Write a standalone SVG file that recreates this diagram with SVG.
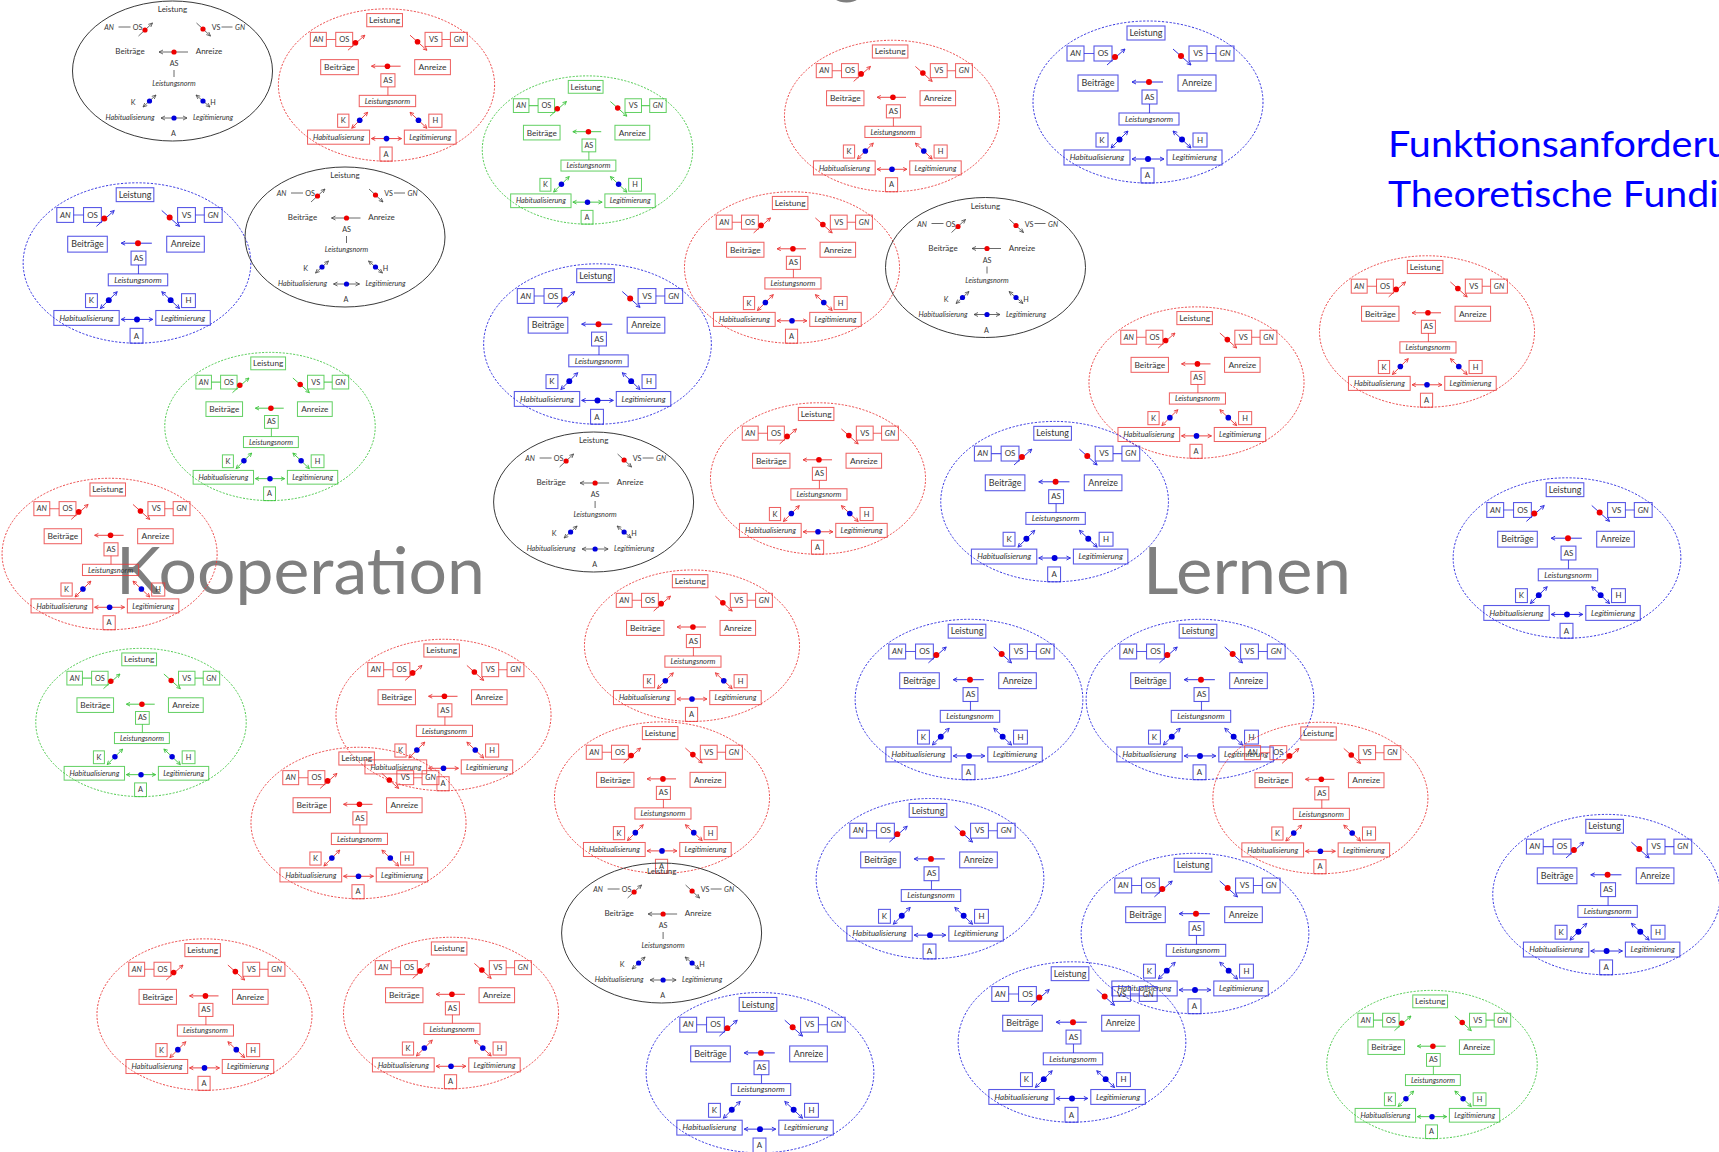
<svg xmlns="http://www.w3.org/2000/svg" xmlns:xlink="http://www.w3.org/1999/xlink" width="1719" height="1152" viewBox="0 0 1719 1152">
<style>
text{font-family:Lato,"Open Sans",sans-serif;fill:#333;text-anchor:middle}
.c text{font-size:8px}
.c .L{font-size:9px}
.k text{font-size:7.2px}
.k .L{font-size:8px}
.i{font-style:italic}
.r{color:#ea3a3a}
.b{color:#3030e0}
.g{color:#3cc43c}
text.big{font-size:66px;fill:#7f7f7f;text-anchor:start}
text.ttl{font-size:37.5px;fill:#0000ff;text-anchor:start}
</style>
<defs>
<g id="T" fill="none" stroke="currentColor">
<ellipse rx="115" ry="81" stroke-dasharray="2.2 1.6" stroke-width="1"/>
<g stroke-width="1.1" stroke-opacity="0.8">
<rect x="-21" y="-76" width="38" height="14"/>
<rect x="-81" y="-56" width="17" height="15"/>
<rect x="-54" y="-56" width="18" height="15"/>
<rect x="41" y="-56" width="18" height="15"/>
<rect x="68" y="-56" width="18" height="15"/>
<rect x="-70" y="-27" width="40" height="16"/>
<rect x="30" y="-27" width="38" height="16"/>
<rect x="-6" y="-12" width="15" height="14"/>
<rect x="-29" y="11" width="60" height="12"/>
<rect x="-52" y="31" width="12" height="14"/>
<rect x="45" y="31" width="14" height="14"/>
<rect x="-84" y="48" width="66" height="15"/>
<rect x="19" y="48" width="55" height="15"/>
<rect x="-7" y="66" width="13" height="15"/>
<path d="M-64,-48.5H-54M59,-48.5H68M1.5,2V11"/>
</g>
<path stroke-width="1" d="M-41,-37L-23,-53M25,-53L43,-37M15,-20H-16M-37,46L-20,29M25,29L43,46M-16,57H16"/>
<path stroke-width="1" d="M-24.7,-48.9L-23,-53L-27.3,-51.8M38.7,-38.2L43,-37L41.3,-41.1M-12,-22L-16,-20L-12,-18M-21.4,33.2L-20,29L-24.2,30.4M-32.8,44.6L-37,46L-35.6,41.8M38.7,44.7L43,46L41.5,41.8M26.5,33.2L25,29L29.3,30.3M-12,55L-16,57L-12,59M12,55L16,57L12,59"/>
<g stroke="none">
<circle cx="-33" cy="-45" r="3" fill="#e00"/>
<circle cx="33" cy="-46" r="3" fill="#e00"/>
<circle cx="1" cy="-20" r="3" fill="#e00"/>
<circle cx="-28.5" cy="37.5" r="3" fill="#00d"/>
<circle cx="34" cy="37.5" r="3" fill="#00d"/>
<circle cx="0" cy="57" r="3" fill="#00d"/>
</g>
</g>
<g id="B" fill="none" stroke="#444" stroke-width="0.8">
<ellipse rx="100" ry="70" stroke="#3a3a3a" stroke-width="1"/>
<path d="M-54,-44H-42M49,-44H60M1.5,-1V6M-34,-35L-20,-48M24,-48L38,-35M15.5,-19H-13.5M-29.5,36L-16.5,24M23.5,24L37.5,36M-11.5,47H14.5"/>
<path d="M-21.7,-44L-20,-48L-24.2,-46.6M33.8,-36.4L38,-35L36.3,-39M-9.5,-21L-13.5,-19L-9.5,-17M-18.2,28L-16.5,24L-20.7,25.4M-25.3,34.6L-29.5,36L-27.8,32M33.3,34.8L37.5,36L35.6,32M25.4,28L23.5,24L27.7,25.2M-7.5,45L-11.5,47L-7.5,49M10.5,45L14.5,47L10.5,49"/>
<g stroke="none">
<circle cx="-27.5" cy="-41" r="2.6" fill="#e00"/>
<circle cx="30.5" cy="-42" r="2.6" fill="#e00"/>
<circle cx="1.5" cy="-19" r="2.6" fill="#e00"/>
<circle cx="-23" cy="30" r="2.6" fill="#00d"/>
<circle cx="30.5" cy="30" r="2.6" fill="#00d"/>
<circle cx="1.5" cy="47" r="2.6" fill="#00d"/>
</g>
</g>
</defs>
<rect width="1719" height="1152" fill="#fff"/>
<g id="titles">
<text class="big" x="830" y="-9">g</text>
<text class="big" x="116" y="594" textLength="369" lengthAdjust="spacingAndGlyphs">Kooperation</text>
<text class="big" x="1143" y="594" textLength="208" lengthAdjust="spacingAndGlyphs">Lernen</text>
<text class="ttl" x="1388" y="157" textLength="426" lengthAdjust="spacingAndGlyphs">Funktionsanforderungen</text>
<text class="ttl" x="1388" y="207" textLength="430" lengthAdjust="spacingAndGlyphs">Theoretische Fundierung</text>
</g>

<g id="n1" class="k" transform="translate(172.5,71)"><use href="#B"/><text class="L" x="0" y="-59">Leistung</text><text class="i" x="-63.5" y="-41">AN</text><text x="-35" y="-41">OS</text><text x="43.5" y="-41">VS</text><text class="i" x="67.5" y="-41">GN</text><text class="L" x="-42.5" y="-17">Beiträge</text><text class="L" x="36.5" y="-17">Anreize</text><text x="1.5" y="-5">AS</text><text class="i" x="1.5" y="15">Leistungsnorm</text><text x="-39.5" y="34">K</text><text x="40.5" y="34">H</text><text class="i" x="-42.5" y="49">Habitualisierung</text><text class="i" x="40.5" y="49">Legitimierung</text><text x="1" y="65">A</text></g>

<g id="n2" class="c r" transform="translate(386.5,85) scale(0.94)"><use href="#T"/><text class="L" x="-2" y="-65.8">Leistung</text><text class="i" x="-72.5" y="-45.8">AN</text><text x="-45" y="-45.8">OS</text><text x="50" y="-45.8">VS</text><text class="i" x="77" y="-45.8">GN</text><text class="L" x="-50" y="-15.8">Beiträge</text><text class="L" x="49" y="-15.8">Anreize</text><text x="1.5" y="-2.3">AS</text><text class="i" x="1" y="19.8">Leistungsnorm</text><text x="-46" y="40.8">K</text><text x="52" y="40.8">H</text><text class="i" x="-51" y="58.3">Habitualisierung</text><text class="i" x="46.5" y="58.3">Legitimierung</text><text x="-0.5" y="76.3">A</text></g>

<g id="n3" class="c g" transform="translate(587.5,150) scale(0.915)"><use href="#T"/><text class="L" x="-2" y="-65.8">Leistung</text><text class="i" x="-72.5" y="-45.8">AN</text><text x="-45" y="-45.8">OS</text><text x="50" y="-45.8">VS</text><text class="i" x="77" y="-45.8">GN</text><text class="L" x="-50" y="-15.8">Beiträge</text><text class="L" x="49" y="-15.8">Anreize</text><text x="1.5" y="-2.3">AS</text><text class="i" x="1" y="19.8">Leistungsnorm</text><text x="-46" y="40.8">K</text><text x="52" y="40.8">H</text><text class="i" x="-51" y="58.3">Habitualisierung</text><text class="i" x="46.5" y="58.3">Legitimierung</text><text x="-0.5" y="76.3">A</text></g>

<g id="n4" class="c r" transform="translate(892,116) scale(0.935)"><use href="#T"/><text class="L" x="-2" y="-65.8">Leistung</text><text class="i" x="-72.5" y="-45.8">AN</text><text x="-45" y="-45.8">OS</text><text x="50" y="-45.8">VS</text><text class="i" x="77" y="-45.8">GN</text><text class="L" x="-50" y="-15.8">Beiträge</text><text class="L" x="49" y="-15.8">Anreize</text><text x="1.5" y="-2.3">AS</text><text class="i" x="1" y="19.8">Leistungsnorm</text><text x="-46" y="40.8">K</text><text x="52" y="40.8">H</text><text class="i" x="-51" y="58.3">Habitualisierung</text><text class="i" x="46.5" y="58.3">Legitimierung</text><text x="-0.5" y="76.3">A</text></g>

<g id="n5" class="c b" transform="translate(1148,102)"><use href="#T"/><text class="L" x="-2" y="-65.8">Leistung</text><text class="i" x="-72.5" y="-45.8">AN</text><text x="-45" y="-45.8">OS</text><text x="50" y="-45.8">VS</text><text class="i" x="77" y="-45.8">GN</text><text class="L" x="-50" y="-15.8">Beiträge</text><text class="L" x="49" y="-15.8">Anreize</text><text x="1.5" y="-2.3">AS</text><text class="i" x="1" y="19.8">Leistungsnorm</text><text x="-46" y="40.8">K</text><text x="52" y="40.8">H</text><text class="i" x="-51" y="58.3">Habitualisierung</text><text class="i" x="46.5" y="58.3">Legitimierung</text><text x="-0.5" y="76.3">A</text></g>

<g id="n6" class="c b" transform="translate(137,263) scale(0.99)"><use href="#T"/><text class="L" x="-2" y="-65.8">Leistung</text><text class="i" x="-72.5" y="-45.8">AN</text><text x="-45" y="-45.8">OS</text><text x="50" y="-45.8">VS</text><text class="i" x="77" y="-45.8">GN</text><text class="L" x="-50" y="-15.8">Beiträge</text><text class="L" x="49" y="-15.8">Anreize</text><text x="1.5" y="-2.3">AS</text><text class="i" x="1" y="19.8">Leistungsnorm</text><text x="-46" y="40.8">K</text><text x="52" y="40.8">H</text><text class="i" x="-51" y="58.3">Habitualisierung</text><text class="i" x="46.5" y="58.3">Legitimierung</text><text x="-0.5" y="76.3">A</text></g>

<g id="n7" class="k" transform="translate(345,237)"><use href="#B"/><text class="L" x="0" y="-59">Leistung</text><text class="i" x="-63.5" y="-41">AN</text><text x="-35" y="-41">OS</text><text x="43.5" y="-41">VS</text><text class="i" x="67.5" y="-41">GN</text><text class="L" x="-42.5" y="-17">Beiträge</text><text class="L" x="36.5" y="-17">Anreize</text><text x="1.5" y="-5">AS</text><text class="i" x="1.5" y="15">Leistungsnorm</text><text x="-39.5" y="34">K</text><text x="40.5" y="34">H</text><text class="i" x="-42.5" y="49">Habitualisierung</text><text class="i" x="40.5" y="49">Legitimierung</text><text x="1" y="65">A</text></g>

<g id="n8" class="c r" transform="translate(792,267.5) scale(0.935)"><use href="#T"/><text class="L" x="-2" y="-65.8">Leistung</text><text class="i" x="-72.5" y="-45.8">AN</text><text x="-45" y="-45.8">OS</text><text x="50" y="-45.8">VS</text><text class="i" x="77" y="-45.8">GN</text><text class="L" x="-50" y="-15.8">Beiträge</text><text class="L" x="49" y="-15.8">Anreize</text><text x="1.5" y="-2.3">AS</text><text class="i" x="1" y="19.8">Leistungsnorm</text><text x="-46" y="40.8">K</text><text x="52" y="40.8">H</text><text class="i" x="-51" y="58.3">Habitualisierung</text><text class="i" x="46.5" y="58.3">Legitimierung</text><text x="-0.5" y="76.3">A</text></g>

<g id="n9" class="k" transform="translate(985.5,267.5)"><use href="#B"/><text class="L" x="0" y="-59">Leistung</text><text class="i" x="-63.5" y="-41">AN</text><text x="-35" y="-41">OS</text><text x="43.5" y="-41">VS</text><text class="i" x="67.5" y="-41">GN</text><text class="L" x="-42.5" y="-17">Beiträge</text><text class="L" x="36.5" y="-17">Anreize</text><text x="1.5" y="-5">AS</text><text class="i" x="1.5" y="15">Leistungsnorm</text><text x="-39.5" y="34">K</text><text x="40.5" y="34">H</text><text class="i" x="-42.5" y="49">Habitualisierung</text><text class="i" x="40.5" y="49">Legitimierung</text><text x="1" y="65">A</text></g>

<g id="n10" class="c b" transform="translate(597.5,344) scale(0.99)"><use href="#T"/><text class="L" x="-2" y="-65.8">Leistung</text><text class="i" x="-72.5" y="-45.8">AN</text><text x="-45" y="-45.8">OS</text><text x="50" y="-45.8">VS</text><text class="i" x="77" y="-45.8">GN</text><text class="L" x="-50" y="-15.8">Beiträge</text><text class="L" x="49" y="-15.8">Anreize</text><text x="1.5" y="-2.3">AS</text><text class="i" x="1" y="19.8">Leistungsnorm</text><text x="-46" y="40.8">K</text><text x="52" y="40.8">H</text><text class="i" x="-51" y="58.3">Habitualisierung</text><text class="i" x="46.5" y="58.3">Legitimierung</text><text x="-0.5" y="76.3">A</text></g>

<g id="n11" class="c g" transform="translate(270,426.5) scale(0.915)"><use href="#T"/><text class="L" x="-2" y="-65.8">Leistung</text><text class="i" x="-72.5" y="-45.8">AN</text><text x="-45" y="-45.8">OS</text><text x="50" y="-45.8">VS</text><text class="i" x="77" y="-45.8">GN</text><text class="L" x="-50" y="-15.8">Beiträge</text><text class="L" x="49" y="-15.8">Anreize</text><text x="1.5" y="-2.3">AS</text><text class="i" x="1" y="19.8">Leistungsnorm</text><text x="-46" y="40.8">K</text><text x="52" y="40.8">H</text><text class="i" x="-51" y="58.3">Habitualisierung</text><text class="i" x="46.5" y="58.3">Legitimierung</text><text x="-0.5" y="76.3">A</text></g>

<g id="n12" class="c r" transform="translate(1427,331.5) scale(0.935)"><use href="#T"/><text class="L" x="-2" y="-65.8">Leistung</text><text class="i" x="-72.5" y="-45.8">AN</text><text x="-45" y="-45.8">OS</text><text x="50" y="-45.8">VS</text><text class="i" x="77" y="-45.8">GN</text><text class="L" x="-50" y="-15.8">Beiträge</text><text class="L" x="49" y="-15.8">Anreize</text><text x="1.5" y="-2.3">AS</text><text class="i" x="1" y="19.8">Leistungsnorm</text><text x="-46" y="40.8">K</text><text x="52" y="40.8">H</text><text class="i" x="-51" y="58.3">Habitualisierung</text><text class="i" x="46.5" y="58.3">Legitimierung</text><text x="-0.5" y="76.3">A</text></g>

<g id="n13" class="c r" transform="translate(1196.5,382.6) scale(0.935)"><use href="#T"/><text class="L" x="-2" y="-65.8">Leistung</text><text class="i" x="-72.5" y="-45.8">AN</text><text x="-45" y="-45.8">OS</text><text x="50" y="-45.8">VS</text><text class="i" x="77" y="-45.8">GN</text><text class="L" x="-50" y="-15.8">Beiträge</text><text class="L" x="49" y="-15.8">Anreize</text><text x="1.5" y="-2.3">AS</text><text class="i" x="1" y="19.8">Leistungsnorm</text><text x="-46" y="40.8">K</text><text x="52" y="40.8">H</text><text class="i" x="-51" y="58.3">Habitualisierung</text><text class="i" x="46.5" y="58.3">Legitimierung</text><text x="-0.5" y="76.3">A</text></g>

<g id="n14" class="k" transform="translate(593.6,502)"><use href="#B"/><text class="L" x="0" y="-59">Leistung</text><text class="i" x="-63.5" y="-41">AN</text><text x="-35" y="-41">OS</text><text x="43.5" y="-41">VS</text><text class="i" x="67.5" y="-41">GN</text><text class="L" x="-42.5" y="-17">Beiträge</text><text class="L" x="36.5" y="-17">Anreize</text><text x="1.5" y="-5">AS</text><text class="i" x="1.5" y="15">Leistungsnorm</text><text x="-39.5" y="34">K</text><text x="40.5" y="34">H</text><text class="i" x="-42.5" y="49">Habitualisierung</text><text class="i" x="40.5" y="49">Legitimierung</text><text x="1" y="65">A</text></g>

<g id="n15" class="c r" transform="translate(818,478.5) scale(0.935)"><use href="#T"/><text class="L" x="-2" y="-65.8">Leistung</text><text class="i" x="-72.5" y="-45.8">AN</text><text x="-45" y="-45.8">OS</text><text x="50" y="-45.8">VS</text><text class="i" x="77" y="-45.8">GN</text><text class="L" x="-50" y="-15.8">Beiträge</text><text class="L" x="49" y="-15.8">Anreize</text><text x="1.5" y="-2.3">AS</text><text class="i" x="1" y="19.8">Leistungsnorm</text><text x="-46" y="40.8">K</text><text x="52" y="40.8">H</text><text class="i" x="-51" y="58.3">Habitualisierung</text><text class="i" x="46.5" y="58.3">Legitimierung</text><text x="-0.5" y="76.3">A</text></g>

<g id="n16" class="c b" transform="translate(1054.6,501.6) scale(0.99)"><use href="#T"/><text class="L" x="-2" y="-65.8">Leistung</text><text class="i" x="-72.5" y="-45.8">AN</text><text x="-45" y="-45.8">OS</text><text x="50" y="-45.8">VS</text><text class="i" x="77" y="-45.8">GN</text><text class="L" x="-50" y="-15.8">Beiträge</text><text class="L" x="49" y="-15.8">Anreize</text><text x="1.5" y="-2.3">AS</text><text class="i" x="1" y="19.8">Leistungsnorm</text><text x="-46" y="40.8">K</text><text x="52" y="40.8">H</text><text class="i" x="-51" y="58.3">Habitualisierung</text><text class="i" x="46.5" y="58.3">Legitimierung</text><text x="-0.5" y="76.3">A</text></g>

<g id="n17" class="c b" transform="translate(1567,558) scale(0.99)"><use href="#T"/><text class="L" x="-2" y="-65.8">Leistung</text><text class="i" x="-72.5" y="-45.8">AN</text><text x="-45" y="-45.8">OS</text><text x="50" y="-45.8">VS</text><text class="i" x="77" y="-45.8">GN</text><text class="L" x="-50" y="-15.8">Beiträge</text><text class="L" x="49" y="-15.8">Anreize</text><text x="1.5" y="-2.3">AS</text><text class="i" x="1" y="19.8">Leistungsnorm</text><text x="-46" y="40.8">K</text><text x="52" y="40.8">H</text><text class="i" x="-51" y="58.3">Habitualisierung</text><text class="i" x="46.5" y="58.3">Legitimierung</text><text x="-0.5" y="76.3">A</text></g>

<g id="n18" class="c r" transform="translate(109.6,554) scale(0.935)"><use href="#T"/><text class="L" x="-2" y="-65.8">Leistung</text><text class="i" x="-72.5" y="-45.8">AN</text><text x="-45" y="-45.8">OS</text><text x="50" y="-45.8">VS</text><text class="i" x="77" y="-45.8">GN</text><text class="L" x="-50" y="-15.8">Beiträge</text><text class="L" x="49" y="-15.8">Anreize</text><text x="1.5" y="-2.3">AS</text><text class="i" x="1" y="19.8">Leistungsnorm</text><text x="-46" y="40.8">K</text><text x="52" y="40.8">H</text><text class="i" x="-51" y="58.3">Habitualisierung</text><text class="i" x="46.5" y="58.3">Legitimierung</text><text x="-0.5" y="76.3">A</text></g>

<g id="n19" class="c g" transform="translate(141,722.5) scale(0.915)"><use href="#T"/><text class="L" x="-2" y="-65.8">Leistung</text><text class="i" x="-72.5" y="-45.8">AN</text><text x="-45" y="-45.8">OS</text><text x="50" y="-45.8">VS</text><text class="i" x="77" y="-45.8">GN</text><text class="L" x="-50" y="-15.8">Beiträge</text><text class="L" x="49" y="-15.8">Anreize</text><text x="1.5" y="-2.3">AS</text><text class="i" x="1" y="19.8">Leistungsnorm</text><text x="-46" y="40.8">K</text><text x="52" y="40.8">H</text><text class="i" x="-51" y="58.3">Habitualisierung</text><text class="i" x="46.5" y="58.3">Legitimierung</text><text x="-0.5" y="76.3">A</text></g>

<g id="n20" class="c r" transform="translate(443.5,715) scale(0.935)"><use href="#T"/><text class="L" x="-2" y="-65.8">Leistung</text><text class="i" x="-72.5" y="-45.8">AN</text><text x="-45" y="-45.8">OS</text><text x="50" y="-45.8">VS</text><text class="i" x="77" y="-45.8">GN</text><text class="L" x="-50" y="-15.8">Beiträge</text><text class="L" x="49" y="-15.8">Anreize</text><text x="1.5" y="-2.3">AS</text><text class="i" x="1" y="19.8">Leistungsnorm</text><text x="-46" y="40.8">K</text><text x="52" y="40.8">H</text><text class="i" x="-51" y="58.3">Habitualisierung</text><text class="i" x="46.5" y="58.3">Legitimierung</text><text x="-0.5" y="76.3">A</text></g>

<g id="n21" class="c r" transform="translate(692,645.7) scale(0.935)"><use href="#T"/><text class="L" x="-2" y="-65.8">Leistung</text><text class="i" x="-72.5" y="-45.8">AN</text><text x="-45" y="-45.8">OS</text><text x="50" y="-45.8">VS</text><text class="i" x="77" y="-45.8">GN</text><text class="L" x="-50" y="-15.8">Beiträge</text><text class="L" x="49" y="-15.8">Anreize</text><text x="1.5" y="-2.3">AS</text><text class="i" x="1" y="19.8">Leistungsnorm</text><text x="-46" y="40.8">K</text><text x="52" y="40.8">H</text><text class="i" x="-51" y="58.3">Habitualisierung</text><text class="i" x="46.5" y="58.3">Legitimierung</text><text x="-0.5" y="76.3">A</text></g>

<g id="n22" class="c b" transform="translate(969,699.5) scale(0.99)"><use href="#T"/><text class="L" x="-2" y="-65.8">Leistung</text><text class="i" x="-72.5" y="-45.8">AN</text><text x="-45" y="-45.8">OS</text><text x="50" y="-45.8">VS</text><text class="i" x="77" y="-45.8">GN</text><text class="L" x="-50" y="-15.8">Beiträge</text><text class="L" x="49" y="-15.8">Anreize</text><text x="1.5" y="-2.3">AS</text><text class="i" x="1" y="19.8">Leistungsnorm</text><text x="-46" y="40.8">K</text><text x="52" y="40.8">H</text><text class="i" x="-51" y="58.3">Habitualisierung</text><text class="i" x="46.5" y="58.3">Legitimierung</text><text x="-0.5" y="76.3">A</text></g>

<g id="n23" class="c b" transform="translate(1200,699.5) scale(0.99)"><use href="#T"/><text class="L" x="-2" y="-65.8">Leistung</text><text class="i" x="-72.5" y="-45.8">AN</text><text x="-45" y="-45.8">OS</text><text x="50" y="-45.8">VS</text><text class="i" x="77" y="-45.8">GN</text><text class="L" x="-50" y="-15.8">Beiträge</text><text class="L" x="49" y="-15.8">Anreize</text><text x="1.5" y="-2.3">AS</text><text class="i" x="1" y="19.8">Leistungsnorm</text><text x="-46" y="40.8">K</text><text x="52" y="40.8">H</text><text class="i" x="-51" y="58.3">Habitualisierung</text><text class="i" x="46.5" y="58.3">Legitimierung</text><text x="-0.5" y="76.3">A</text></g>

<g id="n24" class="c r" transform="translate(358.5,823) scale(0.935)"><use href="#T"/><text class="L" x="-2" y="-65.8">Leistung</text><text class="i" x="-72.5" y="-45.8">AN</text><text x="-45" y="-45.8">OS</text><text x="50" y="-45.8">VS</text><text class="i" x="77" y="-45.8">GN</text><text class="L" x="-50" y="-15.8">Beiträge</text><text class="L" x="49" y="-15.8">Anreize</text><text x="1.5" y="-2.3">AS</text><text class="i" x="1" y="19.8">Leistungsnorm</text><text x="-46" y="40.8">K</text><text x="52" y="40.8">H</text><text class="i" x="-51" y="58.3">Habitualisierung</text><text class="i" x="46.5" y="58.3">Legitimierung</text><text x="-0.5" y="76.3">A</text></g>

<g id="n25" class="c r" transform="translate(662,797.6) scale(0.935)"><use href="#T"/><text class="L" x="-2" y="-65.8">Leistung</text><text class="i" x="-72.5" y="-45.8">AN</text><text x="-45" y="-45.8">OS</text><text x="50" y="-45.8">VS</text><text class="i" x="77" y="-45.8">GN</text><text class="L" x="-50" y="-15.8">Beiträge</text><text class="L" x="49" y="-15.8">Anreize</text><text x="1.5" y="-2.3">AS</text><text class="i" x="1" y="19.8">Leistungsnorm</text><text x="-46" y="40.8">K</text><text x="52" y="40.8">H</text><text class="i" x="-51" y="58.3">Habitualisierung</text><text class="i" x="46.5" y="58.3">Legitimierung</text><text x="-0.5" y="76.3">A</text></g>

<g id="n26" class="c r" transform="translate(1320.4,798) scale(0.935)"><use href="#T"/><text class="L" x="-2" y="-65.8">Leistung</text><text class="i" x="-72.5" y="-45.8">AN</text><text x="-45" y="-45.8">OS</text><text x="50" y="-45.8">VS</text><text class="i" x="77" y="-45.8">GN</text><text class="L" x="-50" y="-15.8">Beiträge</text><text class="L" x="49" y="-15.8">Anreize</text><text x="1.5" y="-2.3">AS</text><text class="i" x="1" y="19.8">Leistungsnorm</text><text x="-46" y="40.8">K</text><text x="52" y="40.8">H</text><text class="i" x="-51" y="58.3">Habitualisierung</text><text class="i" x="46.5" y="58.3">Legitimierung</text><text x="-0.5" y="76.3">A</text></g>

<g id="n27" class="c b" transform="translate(930,878.7) scale(0.99)"><use href="#T"/><text class="L" x="-2" y="-65.8">Leistung</text><text class="i" x="-72.5" y="-45.8">AN</text><text x="-45" y="-45.8">OS</text><text x="50" y="-45.8">VS</text><text class="i" x="77" y="-45.8">GN</text><text class="L" x="-50" y="-15.8">Beiträge</text><text class="L" x="49" y="-15.8">Anreize</text><text x="1.5" y="-2.3">AS</text><text class="i" x="1" y="19.8">Leistungsnorm</text><text x="-46" y="40.8">K</text><text x="52" y="40.8">H</text><text class="i" x="-51" y="58.3">Habitualisierung</text><text class="i" x="46.5" y="58.3">Legitimierung</text><text x="-0.5" y="76.3">A</text></g>

<g id="n28" class="c b" transform="translate(1195,933.5) scale(0.99)"><use href="#T"/><text class="L" x="-2" y="-65.8">Leistung</text><text class="i" x="-72.5" y="-45.8">AN</text><text x="-45" y="-45.8">OS</text><text x="50" y="-45.8">VS</text><text class="i" x="77" y="-45.8">GN</text><text class="L" x="-50" y="-15.8">Beiträge</text><text class="L" x="49" y="-15.8">Anreize</text><text x="1.5" y="-2.3">AS</text><text class="i" x="1" y="19.8">Leistungsnorm</text><text x="-46" y="40.8">K</text><text x="52" y="40.8">H</text><text class="i" x="-51" y="58.3">Habitualisierung</text><text class="i" x="46.5" y="58.3">Legitimierung</text><text x="-0.5" y="76.3">A</text></g>

<g id="n29" class="k" transform="translate(661.6,933)"><use href="#B"/><text class="L" x="0" y="-59">Leistung</text><text class="i" x="-63.5" y="-41">AN</text><text x="-35" y="-41">OS</text><text x="43.5" y="-41">VS</text><text class="i" x="67.5" y="-41">GN</text><text class="L" x="-42.5" y="-17">Beiträge</text><text class="L" x="36.5" y="-17">Anreize</text><text x="1.5" y="-5">AS</text><text class="i" x="1.5" y="15">Leistungsnorm</text><text x="-39.5" y="34">K</text><text x="40.5" y="34">H</text><text class="i" x="-42.5" y="49">Habitualisierung</text><text class="i" x="40.5" y="49">Legitimierung</text><text x="1" y="65">A</text></g>

<g id="n30" class="c b" transform="translate(1606.6,894.6) scale(0.99)"><use href="#T"/><text class="L" x="-2" y="-65.8">Leistung</text><text class="i" x="-72.5" y="-45.8">AN</text><text x="-45" y="-45.8">OS</text><text x="50" y="-45.8">VS</text><text class="i" x="77" y="-45.8">GN</text><text class="L" x="-50" y="-15.8">Beiträge</text><text class="L" x="49" y="-15.8">Anreize</text><text x="1.5" y="-2.3">AS</text><text class="i" x="1" y="19.8">Leistungsnorm</text><text x="-46" y="40.8">K</text><text x="52" y="40.8">H</text><text class="i" x="-51" y="58.3">Habitualisierung</text><text class="i" x="46.5" y="58.3">Legitimierung</text><text x="-0.5" y="76.3">A</text></g>

<g id="n31" class="c r" transform="translate(204.5,1014.6) scale(0.935)"><use href="#T"/><text class="L" x="-2" y="-65.8">Leistung</text><text class="i" x="-72.5" y="-45.8">AN</text><text x="-45" y="-45.8">OS</text><text x="50" y="-45.8">VS</text><text class="i" x="77" y="-45.8">GN</text><text class="L" x="-50" y="-15.8">Beiträge</text><text class="L" x="49" y="-15.8">Anreize</text><text x="1.5" y="-2.3">AS</text><text class="i" x="1" y="19.8">Leistungsnorm</text><text x="-46" y="40.8">K</text><text x="52" y="40.8">H</text><text class="i" x="-51" y="58.3">Habitualisierung</text><text class="i" x="46.5" y="58.3">Legitimierung</text><text x="-0.5" y="76.3">A</text></g>

<g id="n32" class="c r" transform="translate(451,1013) scale(0.935)"><use href="#T"/><text class="L" x="-2" y="-65.8">Leistung</text><text class="i" x="-72.5" y="-45.8">AN</text><text x="-45" y="-45.8">OS</text><text x="50" y="-45.8">VS</text><text class="i" x="77" y="-45.8">GN</text><text class="L" x="-50" y="-15.8">Beiträge</text><text class="L" x="49" y="-15.8">Anreize</text><text x="1.5" y="-2.3">AS</text><text class="i" x="1" y="19.8">Leistungsnorm</text><text x="-46" y="40.8">K</text><text x="52" y="40.8">H</text><text class="i" x="-51" y="58.3">Habitualisierung</text><text class="i" x="46.5" y="58.3">Legitimierung</text><text x="-0.5" y="76.3">A</text></g>

<g id="n33" class="c b" transform="translate(760,1072.7) scale(0.99)"><use href="#T"/><text class="L" x="-2" y="-65.8">Leistung</text><text class="i" x="-72.5" y="-45.8">AN</text><text x="-45" y="-45.8">OS</text><text x="50" y="-45.8">VS</text><text class="i" x="77" y="-45.8">GN</text><text class="L" x="-50" y="-15.8">Beiträge</text><text class="L" x="49" y="-15.8">Anreize</text><text x="1.5" y="-2.3">AS</text><text class="i" x="1" y="19.8">Leistungsnorm</text><text x="-46" y="40.8">K</text><text x="52" y="40.8">H</text><text class="i" x="-51" y="58.3">Habitualisierung</text><text class="i" x="46.5" y="58.3">Legitimierung</text><text x="-0.5" y="76.3">A</text></g>

<g id="n34" class="c b" transform="translate(1072,1042) scale(0.99)"><use href="#T"/><text class="L" x="-2" y="-65.8">Leistung</text><text class="i" x="-72.5" y="-45.8">AN</text><text x="-45" y="-45.8">OS</text><text x="50" y="-45.8">VS</text><text class="i" x="77" y="-45.8">GN</text><text class="L" x="-50" y="-15.8">Beiträge</text><text class="L" x="49" y="-15.8">Anreize</text><text x="1.5" y="-2.3">AS</text><text class="i" x="1" y="19.8">Leistungsnorm</text><text x="-46" y="40.8">K</text><text x="52" y="40.8">H</text><text class="i" x="-51" y="58.3">Habitualisierung</text><text class="i" x="46.5" y="58.3">Legitimierung</text><text x="-0.5" y="76.3">A</text></g>

<g id="n35" class="c g" transform="translate(1432,1064.5) scale(0.915)"><use href="#T"/><text class="L" x="-2" y="-65.8">Leistung</text><text class="i" x="-72.5" y="-45.8">AN</text><text x="-45" y="-45.8">OS</text><text x="50" y="-45.8">VS</text><text class="i" x="77" y="-45.8">GN</text><text class="L" x="-50" y="-15.8">Beiträge</text><text class="L" x="49" y="-15.8">Anreize</text><text x="1.5" y="-2.3">AS</text><text class="i" x="1" y="19.8">Leistungsnorm</text><text x="-46" y="40.8">K</text><text x="52" y="40.8">H</text><text class="i" x="-51" y="58.3">Habitualisierung</text><text class="i" x="46.5" y="58.3">Legitimierung</text><text x="-0.5" y="76.3">A</text></g>

<g id="connectors"></g>
</svg>
